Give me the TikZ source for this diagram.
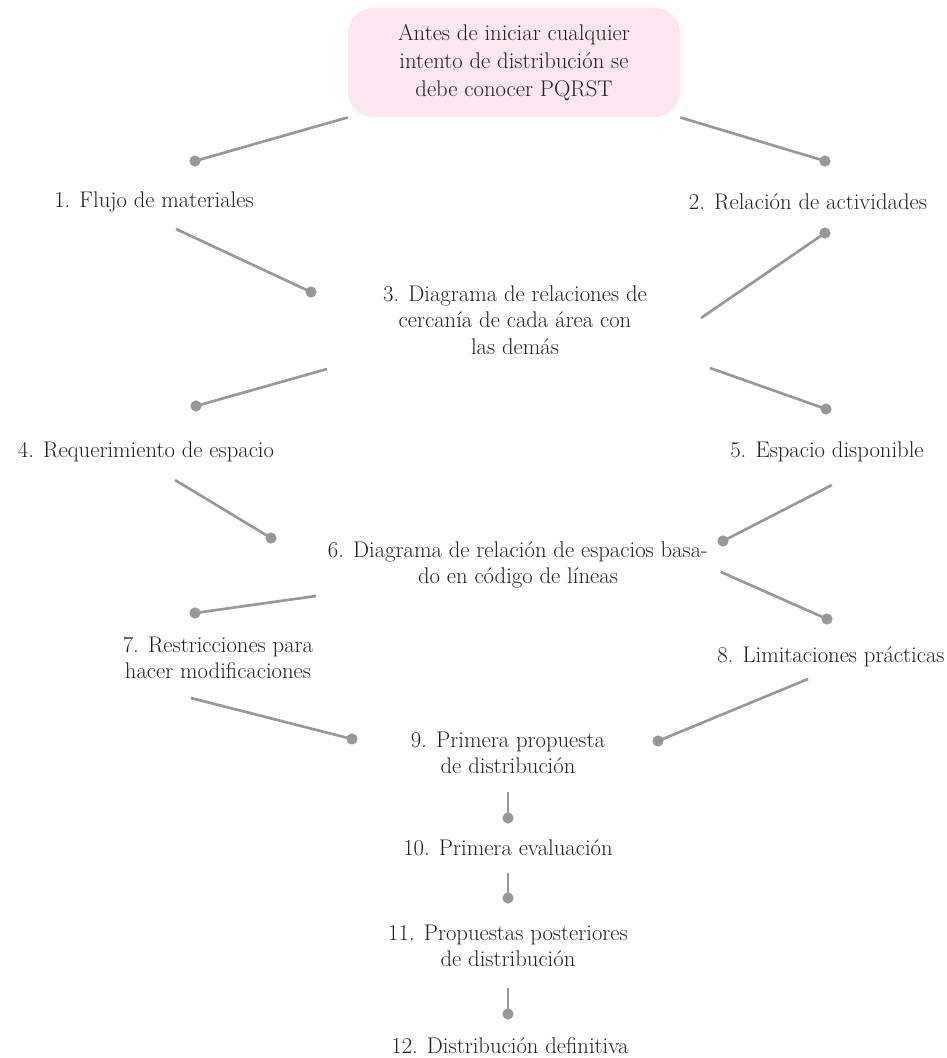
\documentclass[tikz,border=0pt]{standalone}
\usepackage{fontspec}
\definecolor{lineagris}{HTML}{98989C}
\definecolor{rosacaja}{HTML}{FCE6F0}
\definecolor{tinta}{HTML}{231F20}
\tikzset{
  paso/.style={align=center, inner sep=0pt, text=tinta, font=\fontsize{17}{20}\selectfont},
  enlace/.style={draw=lineagris, line width=2pt},
}
\begin{document}
\begin{tikzpicture}[x=0.75pt, y=-0.75pt]
  \useasboundingbox (0,0) rectangle (947,1058);
  % caja inicial
  \node[paso, fill=rosacaja, rounded corners=19pt, minimum width=249pt, minimum height=82pt,
        font=\fontsize{17}{21}\selectfont] (pqrst) at (514,62.5)
       {Antes de iniciar cualquier\\intento de distribución se\\debe conocer PQRST};
  % pasos
  \node[paso] (n1) at (154,202) {1. Flujo de materiales};
  \node[paso] (n2) at (808,202) {2. Relación de actividades};
  \node[paso] (n3) at (515,320) {3. Diagrama de relaciones de\\cercanía de cada área con\\las demás};
  \node[paso] (n4) at (146,452) {4. Requerimiento de espacio};
  \node[paso] (n5) at (827,452) {5. Espacio disponible};
  \node[paso] (n6) at (518,565) {6. Diagrama de relación de espacios basa-\\do en código de líneas};
  \node[paso] (n7) at (218,658) {7. Restricciones para\\hacer modificaciones};
  \node[paso] (n8) at (831,657) {8. Limitaciones prácticas};
  \node[paso] (n9) at (508,753) {9. Primera propuesta\\de distribución};
  \node[paso] (n10) at (508,848) {10. Primera evaluación};
  \node[paso] (n11) at (508,946) {11. Propuestas posteriores\\de distribución};
  \node[paso] (n12) at (510,1046) {12. Distribución definitiva};
  % extremos de los enlaces
  \coordinate (a1) at (pqrst.south west);  \coordinate (b1) at (195,161);
  \coordinate (a2) at (pqrst.south east);  \coordinate (b2) at (825,161);
  \coordinate (a13) at (176,229);  \coordinate (b13) at (311,292);
  \coordinate (a32) at (701,318);  \coordinate (b32) at (825,233);
  \coordinate (a34) at (327,369);  \coordinate (b34) at (196,406);
  \coordinate (a35) at (710,368);  \coordinate (b35) at (826,409);
  \coordinate (a46) at (175,480);  \coordinate (b46) at (271,538);
  \coordinate (a56) at (832,485);  \coordinate (b56) at (723,541);
  \coordinate (a67) at (316,596);  \coordinate (b67) at (195,613);
  \coordinate (a68) at (721,572);  \coordinate (b68) at (827,619);
  \coordinate (a79) at (191,698);  \coordinate (b79) at (352,739);
  \coordinate (a89) at (808,679);  \coordinate (b89) at (658,741);
  \coordinate (a910) at (508,792);  \coordinate (b910) at (508,818);
  \coordinate (a1011) at (508,873);  \coordinate (b1011) at (508,898);
  \coordinate (a1112) at (508,988);  \coordinate (b1112) at (508,1014);
  \foreach \e in {1,2,13,32,34,35,46,56,67,68,79,89,910,1011,1112} {
    \draw[enlace] (a\e) -- (b\e);
    \fill[lineagris] (b\e) circle (4.2pt);
  }
\end{tikzpicture}
\end{document}
